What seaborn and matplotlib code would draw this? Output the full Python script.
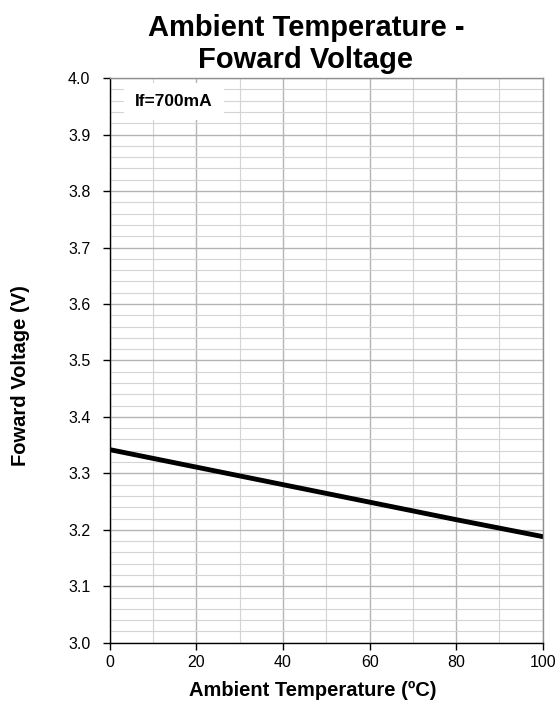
import numpy as np
import pandas as pd
import matplotlib
matplotlib.use("Agg")
import matplotlib.pyplot as plt
import seaborn as sns

# values
temp_c = [0, 20, 40, 60, 80, 100]
vf_volt = [3.342, 3.311, 3.280, 3.249, 3.218, 3.188]
label_if = "If=700mA"

df = pd.DataFrame({"Temp": temp_c, "Vf": vf_volt})

sns.set_style("white")
plt.rcParams['font.family'] = ['Liberation Sans', 'DejaVu Sans']
plt.rcParams['text.color'] = 'black'
plt.rcParams['axes.labelcolor'] = 'black'

fig, ax = plt.subplots(figsize=(5.55, 7.04), dpi=100)
fig.subplots_adjust(left=0.198, right=0.978, top=0.889, bottom=0.087)

sns.lineplot(data=df, x="Temp", y="Vf", ax=ax, color="black", linewidth=3.5)

ax.set_xlim(0, 100)
ax.set_ylim(3.0, 4.0)
ax.set_xticks(np.arange(0, 101, 20))
ax.set_xticks(np.arange(0, 101, 10), minor=True)
ax.set_yticks(np.arange(3.0, 4.01, 0.1))
ax.set_yticks(np.arange(3.0, 4.001, 0.02), minor=True)
ax.set_yticklabels([f"{v:.1f}" for v in np.arange(3.0, 4.01, 0.1)])

ax.grid(which="major", color="#b4b4b4", linewidth=1.0)
ax.grid(which="minor", color="#d4d4d4", linewidth=0.8)
ax.set_axisbelow(True)

for s in ["top", "right"]:
    ax.spines[s].set_color("#909090")
    ax.spines[s].set_linewidth(1.0)
for s in ["left", "bottom"]:
    ax.spines[s].set_color("black")
    ax.spines[s].set_linewidth(1.0)

ax.tick_params(which="major", direction="out", length=5, width=1, colors="black",
               labelsize=11.5, left=True, bottom=True)
ax.tick_params(axis="y", which="major", pad=9)
ax.tick_params(which="minor", length=0)

ax.set_title("Ambient Temperature -\nFoward Voltage", fontsize=21, fontweight="bold",
             linespacing=1.2, pad=7, x=0.453)
ax.set_xlabel("Ambient Temperature (ºC)", fontsize=14.5, fontweight="bold")
ax.set_ylabel("Foward Voltage (V)", fontsize=14.5, fontweight="bold")
ax.xaxis.set_label_coords(0.469, -0.068)
ax.yaxis.set_label_coords(-0.185, 0.474)

ax.text(0.058, 0.972, label_if, transform=ax.transAxes, fontsize=12.5, fontweight="bold",
        va="top", ha="left",
        bbox=dict(facecolor="white", edgecolor="none", pad=8))

fig.savefig("out.png", dpi=100)
